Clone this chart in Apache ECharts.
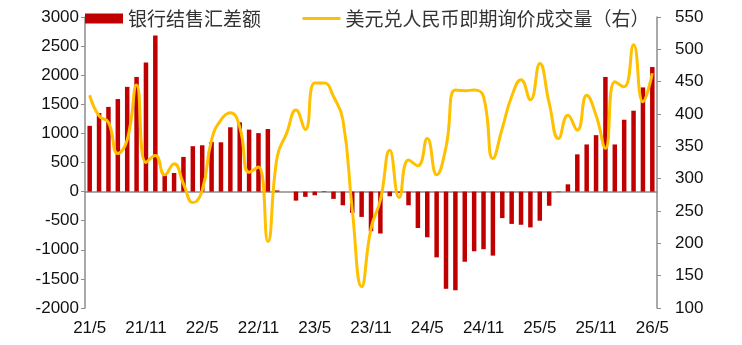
<!DOCTYPE html>
<html>
<head>
<meta charset="utf-8">
<script src="https://cdn.jsdelivr.net/npm/echarts@6/dist/echarts.min.js"></script>
<style>
  html, body { margin: 0; padding: 0; background: #fff; }
  #chart { width: 742px; height: 345px; }
</style>
</head>
<body>
<div id="chart"></div>
<script>
// 月份
var months = [
  '21/5', '21/6', '21/7', '21/8', '21/9', '21/10', '21/11', '21/12',
  '22/1', '22/2', '22/3', '22/4', '22/5', '22/6', '22/7', '22/8', '22/9', '22/10', '22/11', '22/12',
  '23/1', '23/2', '23/3', '23/4', '23/5', '23/6', '23/7', '23/8', '23/9', '23/10', '23/11', '23/12',
  '24/1', '24/2', '24/3', '24/4', '24/5', '24/6', '24/7', '24/8', '24/9', '24/10', '24/11', '24/12',
  '25/1', '25/2', '25/3', '25/4', '25/5', '25/6', '25/7', '25/8', '25/9', '25/10', '25/11', '25/12',
  '26/1', '26/2', '26/3', '26/4', '26/5'
];
// 银行结售汇差额
var netFx = [
  1130, 1350, 1455, 1590, 1800, 1970, 2220, 2680, 290, 320,
  596, 780, 796, 853, 847, 1105, 1190, 1065, 1005, 1075,
  20, 0, -155, -90, -63, 10, -125, -235, -365, -435,
  -680, -720, -80, -20, -235, -625, -785, -1130, -1670, -1695,
  -1205, -1025, -990, -1100, -455, -555, -570, -615, -500, -243,
  -10, 125, 640, 810, 970, 1970, 810, 1235, 1390, 1790, 2140
];
// 美元兑人民币即期询价成交量（右）
var spotVolume = [
  429, 397, 387, 339, 360, 445, 325, 336, 306, 323,
  292, 263, 282, 360, 391, 402, 380, 310, 318, 203,
  334, 370, 406, 376, 448, 448, 427, 391, 252, 133,
  223, 267, 344, 271, 329, 320, 362, 306, 349, 437,
  436, 437, 427, 331, 378, 427, 453, 422, 478, 417,
  362, 398, 375, 429, 398, 347, 450, 442, 507, 419, 463
];
var leftTicks = { min: -2000, max: 3000, interval: 500 };
var rightTicks = { min: 100, max: 550, interval: 50 };

var chart = echarts.init(document.getElementById('chart'));
var axisColor = '#8c8c8c';
var labelFont = { color: '#111', fontSize: 17, fontFamily: 'Arial, "Liberation Sans", sans-serif' };

chart.setOption({
  animation: false,
  grid: { left: 85, right: 85, top: 17, bottom: 37, containLabel: false },
  legend: {
    left: 85,
    top: 9,
    padding: 0,
    itemWidth: 38,
    itemHeight: 10,
    itemGap: 40,
    textStyle: { color: '#333', fontSize: 19, fontFamily: '"Noto Sans CJK SC", sans-serif' },
    data: [
      { name: '银行结售汇差额', icon: 'rect' },
      { name: '美元兑人民币即期询价成交量（右）', itemStyle: { opacity: 0 }, lineStyle: { width: 3 } }
    ]
  },
  xAxis: [
    {
      type: 'category',
      data: months,
      boundaryGap: true,
      axisLine: { onZero: true, lineStyle: { color: axisColor, width: 1.5 } },
      axisTick: { interval: 5, length: 4, lineStyle: { color: axisColor } },
      axisLabel: { show: false }
    },
    {
      type: 'category',
      data: months,
      position: 'bottom',
      boundaryGap: true,
      axisLine: { show: false, onZero: false },
      axisTick: { show: false },
      axisLabel: Object.assign({ interval: 5, margin: 12 }, labelFont)
    }
  ],
  yAxis: [
    {
      type: 'value',
      min: leftTicks.min,
      max: leftTicks.max,
      interval: leftTicks.interval,
      splitLine: { show: false },
      axisLine: { show: true, lineStyle: { color: axisColor, width: 1.5 } },
      axisTick: { show: true, length: 4, lineStyle: { color: axisColor } },
      axisLabel: Object.assign({ margin: 6, formatter: function (v) { return String(v); } }, labelFont)
    },
    {
      type: 'value',
      min: rightTicks.min,
      max: rightTicks.max,
      interval: rightTicks.interval,
      splitLine: { show: false },
      axisLine: { show: true, lineStyle: { color: axisColor, width: 1.5 } },
      axisTick: { show: true, length: 4, lineStyle: { color: axisColor } },
      axisLabel: Object.assign({ margin: 18 }, labelFont)
    }
  ],
  series: [
    {
      name: '银行结售汇差额',
      type: 'bar',
      xAxisIndex: 0,
      yAxisIndex: 0,
      data: netFx,
      barWidth: 4.5,
      itemStyle: { color: '#C00000' }
    },
    {
      name: '美元兑人民币即期询价成交量（右）',
      type: 'line',
      xAxisIndex: 0,
      yAxisIndex: 1,
      data: spotVolume,
      smooth: 0.5,
      symbol: 'none',
      lineStyle: { color: '#FFC000', width: 3 },
      itemStyle: { color: '#FFC000' }
    }
  ]
});
</script>
</body>
</html>
